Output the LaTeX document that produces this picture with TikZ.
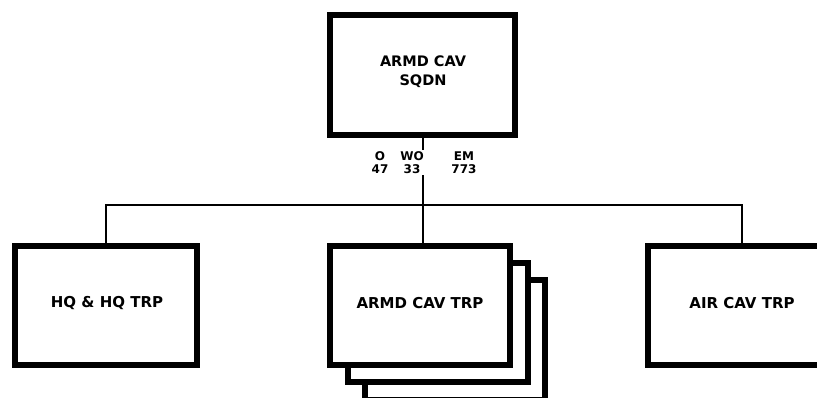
\documentclass[tikz,border=0pt]{standalone}
\usepackage{fontspec}
\setmainfont{DejaVu Sans}
\tikzset{
  unitbox/.style={draw=black, fill=white, line width=6pt, minimum width=182pt, minimum height=119pt, inner sep=0pt,
    font=\bfseries\fontsize{15}{19}\selectfont, align=center},
  conn/.style={draw=black, line width=2pt},
  strength/.style={font=\bfseries\fontsize{12}{13}\selectfont, align=center, inner sep=1pt}
}
\begin{document}
\begin{tikzpicture}[x=1pt,y=-1pt]
\useasboundingbox (0,0) rectangle (817,398);
\clip (0,0) rectangle (817,398);
\fill[white] (0,0) rectangle (817,398);
% top unit
\node[unitbox, minimum width=185pt, minimum height=120pt, text depth=0pt] (sqdn) at (422.5,75) {};
\node[font=\bfseries\fontsize{14.5}{19}\selectfont, align=center] (sqdnlbl) at (423,72) {ARMD CAV\\SQDN};
% subordinate stack (back copies first)
\node[unitbox, minimum width=180pt] (armd3) at (455,340) {};
\node[unitbox, minimum width=180pt] (armd2) at (437.5,322.5) {};
\node[unitbox, minimum width=180pt] (armd) at (420,305.5) {};
\node (armdlbl) at (420,303) {\bfseries\fontsize{15}{19}\selectfont ARMD CAV TRP};
\node[unitbox] (hq) at (106,305.5) {};
\node (hqlbl) at (107,303) {\bfseries\fontsize{15}{19}\selectfont HQ \& HQ TRP};
\node[unitbox, minimum width=188pt] (air) at (742,305.5) {};
\node (airlbl) at (742,303) {\bfseries\fontsize{15}{19}\selectfont AIR CAV TRP};
% connectors
\draw[conn] (sqdn.south) -- (sqdn.south |- armd.north);
\draw[conn] (hq.north) -- ++(0,-38) -| (air.north);
% strength figures
\node[strength] (off) at (380,162.5) {O\\47};
\node[strength, fill=white] (wo) at (412,162.5) {WO\\33};
\node[strength] (em) at (464,162.5) {EM\\773};
\end{tikzpicture}
\end{document}
